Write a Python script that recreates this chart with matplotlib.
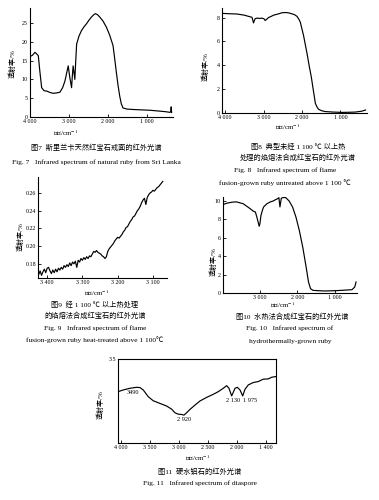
import matplotlib
matplotlib.use("Agg")
import matplotlib.pyplot as plt

plt.rcParams['font.family'] = ['Liberation Serif', 'Noto Sans CJK SC', 'DejaVu Sans']
plt.rcParams['mathtext.fontset'] = 'stix'

# ---------------- data ----------------
# Fig 7: natural ruby from Sri Lanka
f7_wn = [4000, 3940, 3872, 3830, 3786, 3745, 3700, 3640, 3572, 3480, 3400, 3320, 3230, 3160,
         3100, 3050, 3017, 2975, 2930, 2910, 2890, 2870, 2846, 2825, 2800, 2740, 2675, 2610,
         2546, 2480, 2418, 2360, 2316, 2260, 2205, 2120, 2034, 1950, 1863, 1820, 1777, 1735,
         1692, 1650, 1606, 1500, 1350, 1150, 922, 700, 500, 410, 380, 366, 355]
f7_t = [16.1, 16.4, 17.2, 16.8, 16.3, 12.0, 7.8, 7.0, 6.9, 6.5, 6.3, 6.4, 6.6, 7.8,
        9.6, 12.0, 13.6, 10.5, 7.8, 11.0, 13.6, 12.0, 10.0, 14.5, 19.4, 21.5, 23.0, 24.0,
        24.8, 25.8, 26.6, 27.2, 27.5, 27.2, 26.6, 25.5, 23.9, 21.8, 19.0, 15.5, 11.8, 8.5,
        5.6, 3.5, 2.4, 2.1, 2.0, 1.9, 1.8, 1.6, 1.4, 1.25, 1.3, 2.7, 1.2]

# Fig 8: flame-fusion ruby, untreated
f8_wn = [4070, 3900, 3700, 3500, 3391, 3300, 3261, 3220, 3174, 3100, 3043, 2990, 2957, 2920,
         2870, 2800, 2739, 2620, 2522, 2435, 2360, 2304, 2200, 2130, 2080, 2043, 1960, 1870,
         1810, 1757, 1710, 1652, 1600, 1565, 1480, 1391, 1200, 957, 780, 609, 450, 348]
f8_t = [8.35, 8.32, 8.3, 8.2, 8.1, 8.02, 7.55, 7.9, 7.95, 7.93, 7.95, 7.9, 7.75, 7.85,
        8.0, 8.1, 8.2, 8.3, 8.4, 8.42, 8.4, 8.35, 8.25, 8.1, 7.85, 7.6, 6.5, 5.0,
        3.9, 3.0, 2.0, 0.8, 0.45, 0.3, 0.18, 0.12, 0.08, 0.05, 0.06, 0.08, 0.15, 0.25]

# Fig 9: flame-fusion ruby heat-treated above 1100 C
f9_wn = [3424, 3420, 3416, 3412, 3408, 3404, 3400, 3396, 3392, 3388, 3384, 3380, 3376, 3372,
         3368, 3364, 3360, 3356, 3352, 3348, 3344, 3340, 3336, 3332, 3328, 3324, 3320, 3316,
         3312, 3308, 3304, 3300, 3296, 3292, 3288, 3284, 3280, 3276, 3272, 3268, 3264, 3260,
         3256, 3252, 3248, 3244, 3240, 3236, 3232, 3228, 3224, 3220, 3216, 3212, 3208, 3204,
         3200, 3196, 3192, 3188, 3184, 3180, 3176, 3172, 3168, 3164, 3160, 3156, 3152, 3148,
         3144, 3140, 3136, 3132, 3128, 3124, 3120, 3116, 3112, 3108, 3104, 3100, 3096, 3092,
         3088, 3084, 3080, 3076, 3072]
f9_t = [0.168, 0.172, 0.167, 0.171, 0.174, 0.170, 0.175, 0.176, 0.172, 0.169, 0.173, 0.170, 0.174, 0.171,
        0.175, 0.173, 0.176, 0.174, 0.178, 0.176, 0.179, 0.177, 0.181, 0.178, 0.182, 0.180, 0.183, 0.176,
        0.184, 0.182, 0.186, 0.184, 0.187, 0.185, 0.188, 0.186, 0.189, 0.188, 0.191, 0.194, 0.193, 0.195,
        0.193, 0.192, 0.191, 0.189, 0.188, 0.186, 0.188, 0.194, 0.197, 0.199, 0.201, 0.203, 0.206, 0.208,
        0.210, 0.209, 0.211, 0.213, 0.216, 0.218, 0.221, 0.222, 0.225, 0.228, 0.230, 0.233, 0.234, 0.237,
        0.240, 0.242, 0.245, 0.249, 0.252, 0.254, 0.247, 0.255, 0.258, 0.260, 0.261, 0.263, 0.262, 0.264,
        0.266, 0.267, 0.269, 0.271, 0.273]

# Fig 10: hydrothermally-grown ruby
f10_wn = [3978, 3900, 3822, 3730, 3638, 3550, 3457, 3370, 3274, 3183, 3130, 3091, 3050, 3027,
          3005, 2982, 2940, 2909, 2820, 2726, 2650, 2589, 2530, 2498, 2470, 2433, 2370, 2315,
          2224, 2132, 2041, 1950, 1858, 1767, 1703, 1648, 1584, 1450, 1265, 1000, 808, 534, 461, 425]
f10_t = [9.64, 9.75, 9.82, 9.88, 9.9, 9.8, 9.7, 9.45, 9.17, 8.88, 8.8, 8.26, 7.6, 7.25,
         7.6, 8.4, 9.0, 9.35, 9.7, 9.9, 10.0, 10.14, 10.25, 10.36, 9.35, 10.3, 10.38, 10.36,
         10.0, 9.35, 8.26, 6.8, 5.0, 2.83, 1.2, 0.47, 0.29, 0.25, 0.22, 0.25, 0.29, 0.36, 0.65, 1.2]

# Fig 11: diaspore
f11_wn = [4046, 3960, 3845, 3730, 3672, 3615, 3529, 3443, 3328, 3212, 3126, 3069, 3012, 2954,
          2914, 2868, 2810, 2724, 2638, 2523, 2408, 2322, 2236, 2178, 2138, 2092, 2034, 1994,
          1948, 1902, 1862, 1805, 1719, 1633, 1547, 1461, 1402, 1328]
f11_t = [2.14, 2.21, 2.28, 2.32, 2.31, 2.21, 1.93, 1.76, 1.65, 1.54, 1.41, 1.26, 1.20, 1.19,
         1.16, 1.26, 1.40, 1.58, 1.75, 1.90, 2.03, 2.14, 2.28, 2.39, 2.28, 1.96, 2.28, 2.32,
         2.21, 1.96, 2.24, 2.42, 2.52, 2.56, 2.66, 2.67, 2.74, 2.77]
f11_peaks = ['3490', '2 920', '2 130', '1 975']

# ---------------- figure ----------------
W, H = 379, 500
fig = plt.figure(figsize=(W / 100, H / 100), dpi=100)
fig.patch.set_facecolor('white')


def ax_px(l, t, r, b):
    return fig.add_axes([l / W, 1 - b / H, (r - l) / W, (b - t) / H])


def txt(x, y, s, size=5.5, **kw):
    fig.text(x / W, 1 - y / H, s, ha='center', va='center', fontsize=size, **kw)


def style(ax, box=False):
    for sp in ['top', 'right']:
        ax.spines[sp].set_visible(box)
    for sp in ax.spines.values():
        sp.set_linewidth(0.8)
    ax.tick_params(direction='in', length=2, width=0.6, labelsize=4.3, pad=1.5)
    ax.set_facecolor('white')


LW = 0.85
YL = '透射率/%'
XL = '波数/cm$^{-1}$'

# Fig 7
ax7 = ax_px(30, 8, 173, 117)
ax7.plot(f7_wn, f7_t, color='black', lw=LW)
ax7.set_xlim(4000, 320)
ax7.set_ylim(0, 29)
ax7.set_xticks([4000, 3000, 2000, 1000])
ax7.set_xticklabels(['4 000', '3 000', '2 000', '1 000'])
ax7.set_yticks([0, 5, 10, 15, 20, 25])
style(ax7)
txt(12, 64, YL, 5, rotation=90)
txt(66, 133, XL, 5)
txt(96, 147, '图7  斯里兰卡天然红宝石戒面的红外光谱', 5.2)
txt(96, 162, 'Fig. 7   Infrared spectrum of natural ruby from Sri Lanka', 5.3)

# Fig 8
ax8 = ax_px(222, 8, 367, 113)
ax8.plot(f8_wn, f8_t, color='black', lw=LW)
ax8.set_xlim(4080, 310)
ax8.set_ylim(0, 8.8)
ax8.set_xticks([4000, 3000, 2000, 1000])
ax8.set_xticklabels(['4 000', '3 000', '2 000', '1 000'])
ax8.set_yticks([0, 2, 4, 6, 8])
style(ax8)
txt(205, 67, YL, 5, rotation=90)
txt(288, 127, XL, 5)
txt(298, 146, '图8  典型未经 1 100 ℃ 以上热', 5.2)
txt(298, 157, '处理的焰熔法合成红宝石的红外光谱', 5.2)
txt(285, 170, 'Fig. 8   Infrared spectrum of flame', 5.3)
txt(285, 183, 'fusion-grown ruby untreated above 1 100 ℃', 5.3)

# Fig 9
ax9 = ax_px(38, 177, 167, 278)
ax9.plot(f9_wn, f9_t, color='black', lw=LW)
ax9.set_xlim(3426, 3060)
ax9.set_ylim(0.164, 0.278)
ax9.set_xticks([3400, 3300, 3200, 3100])
ax9.set_xticklabels(['3 400', '3 300', '3 200', '3 100'])
ax9.set_yticks([0.18, 0.20, 0.22, 0.24, 0.26])
ax9.set_yticklabels(['0.18', '0.20', '0.22', '0.24', '0.26'])
style(ax9)
txt(20, 237, YL, 5, rotation=90)
txt(97, 293, XL, 5)
txt(95, 304, '图9  经 1 100 ℃ 以上热处理', 5.2)
txt(95, 315, '的焰熔法合成红宝石的红外光谱', 5.2)
txt(95, 328, 'Fig. 9   Infrared spectrum of flame', 5.3)
txt(95, 340, 'fusion-grown ruby heat-treated above 1 100℃', 5.3)

# Fig 10
ax10 = ax_px(223, 197, 357, 293)
ax10.plot(f10_wn, f10_t, color='black', lw=LW)
ax10.set_xlim(4000, 400)
ax10.set_ylim(0, 10.43)
ax10.set_xticks([3000, 2000, 1000])
ax10.set_xticklabels(['3 000', '2 000', '1 000'])
ax10.set_yticks([0, 2, 4, 6, 8, 10])
style(ax10)
txt(213, 262, YL, 5, rotation=90)
txt(283, 305, XL, 5)
txt(292, 316, '图10  水热法合成红宝石的红外光谱', 5.2)
txt(290, 328, 'Fig. 10   Infrared spectrum of', 5.3)
txt(290, 341, 'hydrothermally-grown ruby', 5.3)

# Fig 11
ax11 = ax_px(118, 359, 276, 443)
ax11.plot(f11_wn, f11_t, color='black', lw=LW)
ax11.set_xlim(4050, 1328)
ax11.set_ylim(0, 3.5)
ax11.set_xticks([4000, 3500, 3000, 2500, 2000, 1500])
ax11.set_xticklabels(['4 000', '3 500', '3 000', '2 500', '2 000', '1 400'])
ax11.set_yticks([3.5])
ax11.set_yticklabels(['3.5'])
style(ax11, box=True)
ax11.text(3790, 2.12, f11_peaks[0], fontsize=4.5, ha='center', va='center')
ax11.text(2910, 0.98, f11_peaks[1], fontsize=4.5, ha='center', va='center')
ax11.text(2060, 1.75, f11_peaks[2], fontsize=4.5, ha='center', va='center')
ax11.text(1780, 1.75, f11_peaks[3], fontsize=4.5, ha='center', va='center')
txt(100, 405, YL, 5, rotation=90)
txt(198, 458, XL, 5)
txt(200, 471, '图11  硬水铝石的红外光谱', 5.2)
txt(200, 483, 'Fig. 11   Infrared spectrum of diaspore', 5.3)

fig.savefig('out.png', dpi=100, facecolor='white')
